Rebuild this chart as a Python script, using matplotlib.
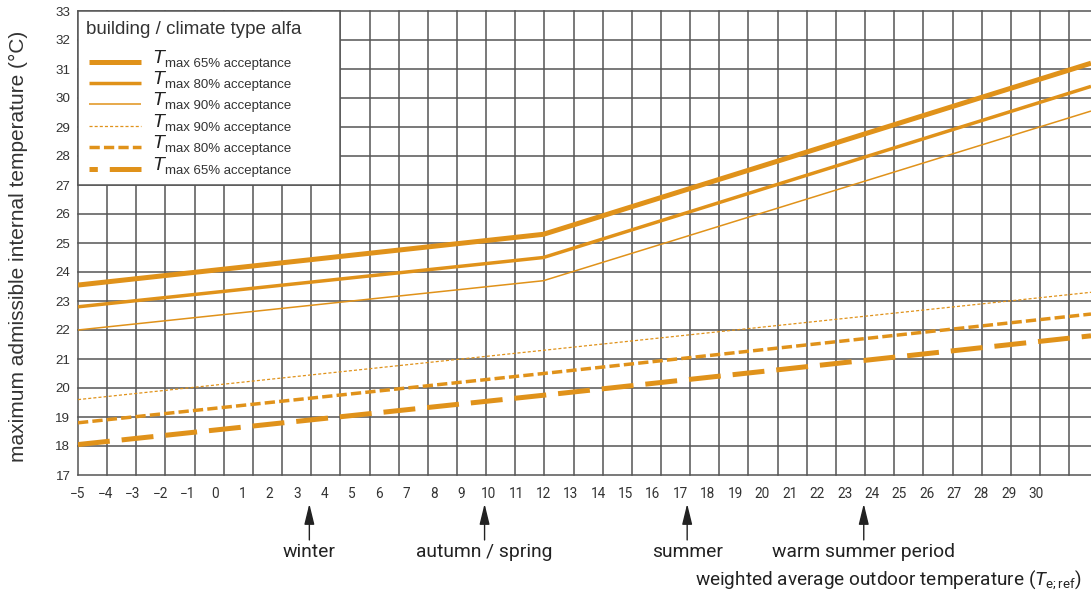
import matplotlib
matplotlib.use("Agg")
import matplotlib.pyplot as plt
from matplotlib.lines import Line2D
from matplotlib.patches import Rectangle

# ---- data -------------------------------------------------------------
temp_ref = [-5, 12, 32]                 # weighted average outdoor temperature
upper_65 = [23.55, 25.3, 31.2]
upper_80 = [22.8, 24.5, 30.4]
upper_90 = [22.0, 23.7, 29.55]
lower_90 = [19.6, 21.3, 23.3]
lower_80 = [18.8, 20.5, 22.55]
lower_65 = [18.05, 19.75, 21.8]

x_ticks = list(range(-5, 31))
x_tick_labels = [str(t).replace("-", "\u2212") for t in x_ticks]
y_ticks = list(range(17, 34))

season_names = ["winter", "autumn / spring", "summer", "warm summer period"]
season_temps = [3.45, 9.85, 17.25, 23.7]

legend_title = "building / climate type alfa"
legend_labels = ["65% acceptance", "80% acceptance", "90% acceptance",
                 "90% acceptance", "80% acceptance", "65% acceptance"]

# ---- styles -----------------------------------------------------------
plt.rcParams["lines.scale_dashes"] = False
plt.rcParams["mathtext.fontset"] = "custom"
plt.rcParams["mathtext.rm"] = "Roboto"
plt.rcParams["mathtext.it"] = "Roboto:italic"

ORANGE = "#E0921A"
GRID = "#555555"
SANS = ["Liberation Sans", "DejaVu Sans"]
DIN = ["Roboto", "DejaVu Sans"]

series = [
    (upper_65, dict(lw=3.6, ls="-")),
    (upper_80, dict(lw=2.5, ls="-")),
    (upper_90, dict(lw=1.1, ls="-")),
    (lower_90, dict(lw=0.9, ls=(0, (2.2, 1.5)))),
    (lower_80, dict(lw=2.5, ls=(0, (7.4, 3.0)))),
    (lower_65, dict(lw=3.6, ls=(0, (23.0, 8.6)))),
]

W, H = 1091, 592
fig = plt.figure(figsize=(W / 100, H / 100), dpi=100)


def fx(px):
    return px / W


def fy(py):
    return 1 - py / H


left, right, top, bottom = 78, 1091, 11, 475
ax = fig.add_axes([fx(left), fy(bottom), fx(right) - fx(left), fy(top) - fy(bottom)])
xmin, xmax = -5, 32
ax.set_xlim(xmin, xmax)
ax.set_ylim(17, 33)
for s in ax.spines.values():
    s.set_visible(False)

# square background grid (one cell per degree on the vertical axis)
grid_px = 29.15
px_per_unit = (right - left) / (xmax - xmin)
cell = grid_px / px_per_unit
k = 0
while xmin + k * cell <= xmax + 1e-9:
    ax.axvline(xmin + k * cell, color=GRID, lw=1.1, zorder=1, clip_on=False)
    k += 1
for yv in y_ticks:
    ax.axhline(yv, color=GRID, lw=1.1, zorder=1, clip_on=False)

# comfort limit lines
for values, st in series:
    ax.plot(temp_ref, values, color=ORANGE, solid_capstyle="butt",
            dash_capstyle="butt", zorder=3, **st)

ax.set_xticks(x_ticks)
ax.set_xticklabels(x_tick_labels, fontfamily=DIN, fontsize=9.8, color="#333333")
ax.set_yticks(y_ticks)
ax.set_yticklabels([str(v) for v in y_ticks], fontfamily=SANS, fontsize=9.6,
                   color="#333333")
ax.tick_params(axis="x", length=0, pad=9.0)
ax.tick_params(axis="y", length=0, pad=5.5)

# legend panel
legend_cells_x, legend_cells_y = 9, 6
ax.add_patch(Rectangle((xmin, 33 - legend_cells_y), legend_cells_x * cell,
                       legend_cells_y, facecolor="white", edgecolor=GRID,
                       lw=1.1, zorder=2, clip_on=False))
fig.text(fx(86), fy(29), legend_title, fontfamily=SANS, fontsize=13.5,
         color="#333333", va="center", ha="left")
row_y = [62, 83, 104, 126, 147, 169]
for (values, st), lab, ry in zip(series, legend_labels, row_y):
    ls = st["ls"]
    if lab == "65% acceptance" and ls != "-":
        ls = (17.0, ls[1])
    ln = Line2D([fx(89), fx(141)], [fy(ry), fy(ry)], transform=fig.transFigure,
                color=ORANGE, lw=st["lw"], ls=ls, solid_capstyle="butt",
                dash_capstyle="butt")
    fig.add_artist(ln)
    fig.text(fx(152), fy(ry + 1), "T", fontfamily=SANS, fontstyle="italic",
             fontsize=14, color="#222222", va="baseline", ha="left")
    fig.text(fx(165), fy(ry + 5), "max " + lab, fontfamily=SANS, fontsize=9.5,
             color="#333333", va="baseline", ha="left")

# season markers below the axis
for name, t in zip(season_names, season_temps):
    ax.annotate("", xy=(t, -0.062), xytext=(t, -0.14),
                xycoords=("data", "axes fraction"),
                textcoords=("data", "axes fraction"),
                arrowprops=dict(arrowstyle="-|>,head_length=0.9,head_width=0.22",
                                color="#222222", lw=1.0, mutation_scale=14,
                                shrinkA=0, shrinkB=0),
                annotation_clip=False)
    fig.text(fx(left + (t - xmin) * px_per_unit), fy(552), name,
             fontfamily=DIN, fontsize=13.9, color="#222222",
             ha="center", va="center")

fig.text(fx(1082), fy(580),
         r"weighted average outdoor temperature ($T_{\mathrm{e;ref}}$)",
         fontfamily=DIN, fontsize=13.7, color="#222222", ha="right", va="center")
fig.text(fx(18), fy(246), "maximum admissible internal temperature (\u00b0C)",
         fontfamily=SANS, fontsize=15, color="#333333", rotation=90,
         ha="center", va="center")

fig.savefig("out.png", dpi=100)
